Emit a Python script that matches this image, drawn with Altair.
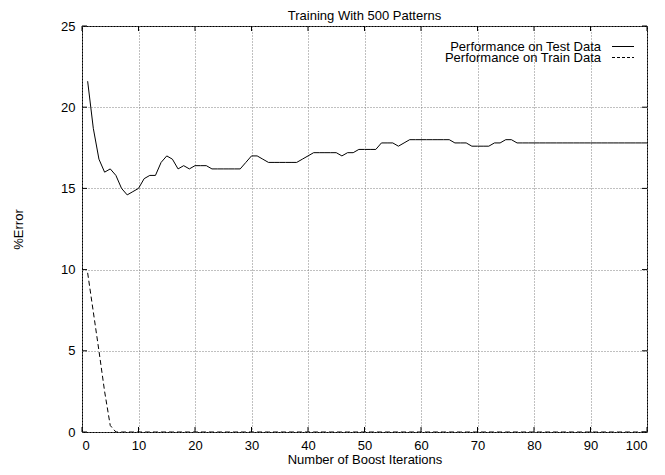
import altair as alt
import pandas as pd

iterations = list(range(1, 101))
test_error = [
    21.6, 18.7, 16.8, 16.0, 16.2, 15.8, 15.0, 14.6, 14.8, 15.0,
    15.6, 15.8, 15.8, 16.6, 17.0, 16.8, 16.2, 16.4, 16.2, 16.4,
    16.4, 16.4, 16.2, 16.2, 16.2, 16.2, 16.2, 16.2, 16.6, 17.0,
    17.0, 16.8, 16.6, 16.6, 16.6, 16.6, 16.6, 16.6, 16.8, 17.0,
    17.2, 17.2, 17.2, 17.2, 17.2, 17.0, 17.2, 17.2, 17.4, 17.4,
    17.4, 17.4, 17.8, 17.8, 17.8, 17.6, 17.8, 18.0, 18.0, 18.0,
    18.0, 18.0, 18.0, 18.0, 18.0, 17.8, 17.8, 17.8, 17.6, 17.6,
    17.6, 17.6, 17.8, 17.8, 18.0, 18.0, 17.8, 17.8, 17.8, 17.8,
    17.8, 17.8, 17.8, 17.8, 17.8, 17.8, 17.8, 17.8, 17.8, 17.8,
    17.8, 17.8, 17.8, 17.8, 17.8, 17.8, 17.8, 17.8, 17.8, 17.8,
]
train_error = [9.8, 7.4, 5.0, 2.5, 0.4] + [0.0] * 95
series_names = ["Performance on Test Data", "Performance on Train Data"]
x_ticks = [0, 10, 20, 30, 40, 50, 60, 70, 80, 90, 100]
y_ticks = [0, 5, 10, 15, 20, 25]
chart_title = ["Training With 500 Patterns"]

FONT = "Liberation Sans"
W, H = 565, 406

df = pd.DataFrame({"iter": iterations, "test": test_error, "train": train_error})
xt = pd.DataFrame({"iter": x_ticks})
yt = pd.DataFrame({"test": y_ticks})
leg = pd.DataFrame({"name": series_names})
ttl = pd.DataFrame({"title": chart_title})

xscale = alt.Scale(domain=[0, 100], nice=False, zero=False)
yscale = alt.Scale(domain=[0, 25], nice=False, zero=False)

x_axis = alt.Axis(values=x_ticks, title="Number of Boost Iterations",
                  titleX=W / 2, titleY=31, titleBaseline="alphabetic",
                  titleAlign="center", labelPadding=7)
y_axis = alt.Axis(values=y_ticks, title="%Error", titleX=-64, titleY=H / 2,
                  titleAngle=-90, titleBaseline="middle", titleAlign="center",
                  labelPadding=7)

X = lambda f: alt.X(f, scale=xscale, axis=x_axis)
Y = lambda f: alt.Y(f, scale=yscale, axis=y_axis)

base = alt.Chart(df)

test_line = base.mark_line(color="black", strokeWidth=1, clip=True).encode(
    x=X("iter:Q"), y=Y("test:Q"))

train_line = base.transform_calculate(test="datum.train").mark_line(
    color="black", strokeWidth=1, strokeDash=[5, 3], clip=True
).encode(x=X("iter:Q"), y=Y("test:Q"))

tk = 5
bottom_ticks = alt.Chart(xt).mark_rule(color="black", strokeWidth=1).encode(
    x=X("iter:Q"), y=alt.value(H), y2=alt.value(H - tk))
top_ticks = alt.Chart(xt).mark_rule(color="black", strokeWidth=1).encode(
    x=X("iter:Q"), y=alt.value(0), y2=alt.value(tk))
left_ticks = alt.Chart(yt).mark_rule(color="black", strokeWidth=1).encode(
    y=Y("test:Q"), x=alt.value(0), x2=alt.value(tk))
right_ticks = alt.Chart(yt).mark_rule(color="black", strokeWidth=1).encode(
    y=Y("test:Q"), x=alt.value(W), x2=alt.value(W - tk))

leg_test = alt.Chart(leg).transform_filter(alt.datum.name == series_names[0])
leg_train = alt.Chart(leg).transform_filter(alt.datum.name == series_names[1])

LX = W - 46
leg_text1 = leg_test.mark_text(align="right", baseline="middle", font=FONT, fontSize=13,
                               color="black").encode(text="name:N", x=alt.value(LX), y=alt.value(20.5))
leg_text2 = leg_train.mark_text(align="right", baseline="middle", font=FONT, fontSize=13,
                                color="black").encode(text="name:N", x=alt.value(LX), y=alt.value(31.5))
leg_line1 = leg_test.mark_rule(color="black", strokeWidth=1).encode(
    x=alt.value(W - 35), x2=alt.value(W - 13), y=alt.value(20.5))
leg_line2 = leg_train.mark_rule(color="black", strokeWidth=1, strokeDash=[3, 2]).encode(
    x=alt.value(W - 35), x2=alt.value(W - 13), y=alt.value(31.5))

title_text = alt.Chart(ttl).mark_text(
    align="center", baseline="alphabetic", font=FONT, fontSize=13, color="black"
).encode(text="title:N", x=alt.value(W / 2), y=alt.value(-6))

chart = alt.layer(
    test_line, train_line, bottom_ticks, top_ticks, left_ticks, right_ticks,
    leg_text1, leg_text2, leg_line1, leg_line2, title_text,
).properties(
    width=W, height=H,
    autosize=alt.AutoSizeParams(type="none"),
    padding={"left": 74, "top": 18, "right": 10, "bottom": 35},
).configure_view(
    stroke="black", strokeWidth=1
).configure_axis(
    labelFont=FONT, labelFontSize=13, labelColor="black",
    titleFont=FONT, titleFontSize=13, titleFontWeight="normal", titleColor="black",
    grid=True, gridColor="#808080", gridDash=[1, 2], gridWidth=1,
    domain=False, ticks=False,
)

chart.save("out.html", embed_options={"renderer": "svg", "actions": False})
